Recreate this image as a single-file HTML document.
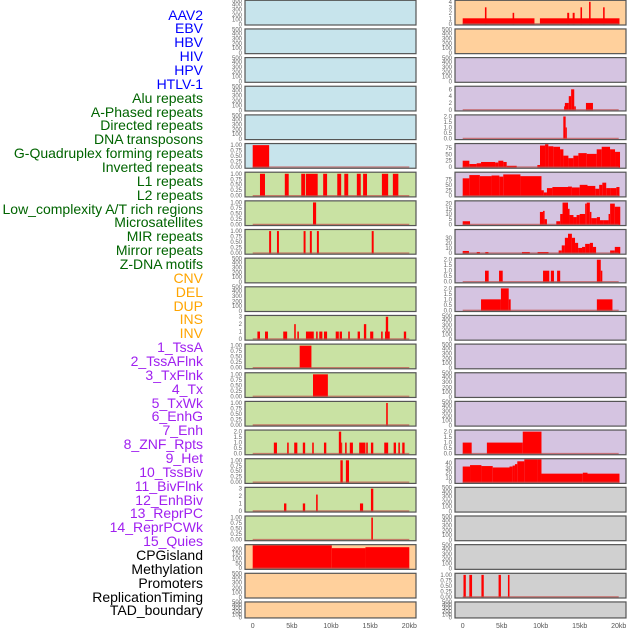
<!DOCTYPE html>
<html><head><meta charset="utf-8">
<style>
html,body{margin:0;padding:0;background:#fff;}
#wrap{position:relative;width:630px;height:630px;overflow:hidden;font-family:"Liberation Sans",sans-serif;}
.lab{position:absolute;right:427px;font-size:14px;line-height:14px;white-space:nowrap;}
svg{position:absolute;left:0;top:0;}
</style></head>
<body>
<div id="wrap">
<div id="labels"></div>
<svg id="chart" width="630" height="630"></svg>
</div>
<script>
const trackNames = ["AAV2","EBV","HBV","HIV","HPV","HTLV-1","Alu repeats","A-Phased repeats","Directed repeats","DNA transposons","G-Quadruplex forming repeats","Inverted repeats","L1 repeats","L2 repeats","Low_complexity A/T rich regions","Microsatellites","MIR repeats","Mirror repeats","Z-DNA motifs","CNV","DEL","DUP","INS","INV","1_TssA","2_TssAFlnk","3_TxFlnk","4_Tx","5_TxWk","6_EnhG","7_Enh","8_ZNF_Rpts","9_Het","10_TssBiv","11_BivFlnk","12_EnhBiv","13_ReprPC","14_ReprPCWk","15_Quies","CPGisland","Methylation","Promoters","ReplicationTiming","TAD_boundary"];
const trackGroups = ["v","v","v","v","v","v","r","r","r","r","r","r","r","r","r","r","r","r","r","s","s","s","s","s","c","c","c","c","c","c","c","c","c","c","c","c","c","c","c","o","o","o","o","o"];
const xTicks = [0,5,10,15,20];
const xTickLabels = ["0","5kb","10kb","15kb","20kb"];

// segments: [startKb, endKb, value]
const left5 = [[0,2.1,1]];
const left6 = [[0.93,1.57,1],[4.1,4.6,1],[6.2,6.7,1],[6.8,8.3,1],[9.0,9.5,1],[10.8,11.3,1],[11.7,12.2,1],[13.3,13.8,1],[14.1,14.6,1],[16.5,17.3,1],[17.9,18.6,1]];
const left7 = [[7.7,8.1,1]];
const left8 = [[2.1,2.35,1],[3.1,3.35,1],[6.5,6.75,1],[7.3,7.55,1],[8.2,8.45,1],[15.2,15.45,1]];
const left11 = [[0.6,0.93,1],[1.57,1.95,1],[3.9,4.4,1],[5.3,5.5,2],[5.7,5.9,1],[6.8,7.8,1],[8.1,8.3,1],[8.5,8.9,1],[9.1,9.5,1],[10.6,11.0,1],[11.1,11.4,1],[12.2,12.4,1],[13.4,13.7,1],[14.2,14.5,2],[15.0,15.4,1],[16.4,16.6,1],[16.9,17.5,1],[17.0,17.3,3],[19.3,19.6,1]];
const left12 = [[6.0,7.5,1]];
const left13 = [[7.7,9.6,1]];
const left14 = [[17.05,17.25,1]];
const left15 = [[2.7,3.1,1],[4.4,4.6,1],[5.3,5.7,1],[6.4,6.7,1],[7.6,7.8,1],[9.1,9.4,1],[11.0,11.3,2],[11.3,11.4,1],[11.8,12.0,1],[12.4,12.8,1],[13.6,14.4,1],[14.5,14.7,1],[15.1,15.4,1],[16.8,17.3,1],[18.0,18.3,1],[18.6,18.8,1],[19.1,19.4,1]];
const left16 = [[11.2,11.5,1],[11.9,12.3,1]];
const left17 = [[4.0,4.3,1],[6.4,6.7,1],[8.1,8.3,2.2],[13.7,14.1,1],[15.1,15.4,3]];
const left18 = [[15.15,15.35,1]];
const left19 = [[0,10.1,240],[10.1,14.4,207],[14.4,20.0,217]];

const right0 = [[0,9.2,1],[9.9,20.1,1],[2.85,3.05,3],[6.4,6.6,2],[13.4,13.65,2],[14.1,14.35,2],[15.1,15.3,3],[16.2,16.4,4],[18.0,18.2,3]];
const right3 = [[13.0,13.1,1],[13.1,13.6,2],[13.6,13.9,4],[13.9,14.3,6],[14.3,14.5,1],[15.8,16.7,2]];
const right4 = [[12.9,13.2,2],[13.2,13.35,1]];
const right5 = [[0,0.85,25],[0.85,1.79,12],[1.79,2.35,15],[2.35,4.15,20],[4.15,4.57,18],[4.57,5.21,25],[5.21,5.64,20],[5.64,6.92,5],[9.57,9.91,8],[9.91,10.56,85],[10.56,10.98,90],[10.98,11.62,82],[11.62,12.48,80],[12.48,12.91,70],[12.91,13.55,45],[13.55,14.19,35],[14.19,14.83,45],[14.83,15.9,55],[15.9,17.18,52],[17.18,17.82,70],[17.82,18.89,80],[18.89,19.53,70],[19.53,20.17,60]];
const right6 = [[0,0.85,80],[0.85,2.2,95],[2.2,3.7,90],[3.7,4.7,93],[4.7,5.2,88],[5.2,7.4,98],[7.4,10.1,90],[10.1,10.4,25],[10.4,10.8,15],[10.8,11.5,35],[11.5,13.5,40],[13.5,14.0,42],[14.0,15.0,38],[15.0,16.0,50],[16.0,17.0,45],[17.0,17.5,32],[17.5,17.9,50],[17.9,18.4,60],[18.4,19.0,35],[19.0,19.7,35],[19.7,20.1,40]];
const right7 = [[0,0.94,3],[9.9,10.3,12],[10.3,10.5,13],[10.5,10.8,5],[12.0,12.5,3],[12.5,12.8,10],[12.8,13.5,21],[13.5,13.7,15],[13.7,14.2,9],[14.2,14.6,7],[14.6,15.0,9],[15.0,15.7,10],[15.7,15.9,20],[15.9,16.3,21],[16.3,16.5,12],[16.5,17.2,6],[17.2,17.6,7],[17.6,18.0,4],[18.0,18.7,4],[18.7,18.9,10],[18.9,19.5,20],[19.5,20.2,17]];
const right8 = [[0,0.8,4],[1.8,2.2,2],[2.9,3.3,2],[7.6,8.6,2],[9.6,11.0,2],[12.3,12.7,5],[12.7,13.1,15],[13.1,13.5,30],[13.5,14.0,38],[14.0,14.4,30],[14.4,14.8,20],[14.8,15.3,10],[15.3,15.7,12],[15.7,16.3,18],[16.3,16.7,20],[16.7,17.1,12],[18.9,19.5,5],[19.5,20.2,12]];
const right9 = [[2.86,3.33,1],[4.66,5.13,1],[10.3,11.1,1],[11.3,11.7,1],[12.1,12.5,1],[17.2,17.7,2],[17.7,17.9,1]];
const right10 = [[2.35,4.9,1],[4.9,5.9,2],[5.9,6.15,1],[17.2,19.2,1]];
const right15 = [[0,1.15,1],[3.1,7.7,1],[7.7,10.1,2]];
const right16 = [[0,0.94,33],[0.94,2.4,36],[2.4,3.85,34],[3.85,6.0,31],[6.0,6.4,33],[6.4,6.7,35],[6.7,7.0,38],[7.0,7.9,44],[7.9,9.6,50],[9.6,10.1,52],[10.1,15.4,18],[15.4,16.0,20],[16.0,20.1,18]];
const right20 = [[0.1,0.4,1],[0.85,1.2,1],[2.4,2.7,1],[4.6,4.9,1],[5.8,6.0,1]];

const tickSets = {
  E:{vals:[0,100,200,300,400,500],labels:["0","100","200","300","400","500"]},
  p1:{vals:[0,0.25,0.5,0.75,1],labels:["0.00","0.25","0.50","0.75","1.00"],max:1.04},
  p2:{vals:[0,0.5,1,1.5,2],labels:["0.0","0.5","1.0","1.5","2.0"],max:2.08},
  p3:{vals:[0,1,2,3],labels:["0","1","2","3"],max:3.08},
  p4:{vals:[0,1,2,3,4],labels:["0","1","2","3","4"],max:4.15},
  p6:{vals:[0,2,4,6],labels:["0","2","4","6"],max:6.7},
  p75a:{vals:[0,25,50,75],labels:["0","25","50","75"],max:90},
  p75b:{vals:[0,25,50,75],labels:["0","25","50","75"],max:105},
  p20:{vals:[0,5,10,15,20],labels:["0","5","10","15","20"],max:22},
  p30:{vals:[0,10,20,30],labels:["0","10","20","30"],max:45},
  p40:{vals:[0,10,20,30,40],labels:["0","10","20","30","40"],max:48},
  p200:{vals:[0,50,100,150,200],labels:["0","50","100","150","200"],max:236}
};
const eFrac = [0.975,0.77,0.59,0.38,0.18,0.015];

const C_BLUE="#c7e4ec",C_GREEN="#c9e2a3",C_PEACH="#ffd09c",C_PURP="#d5c4e1",C_GRAY="#d0d0d0";
const leftBg = [C_BLUE,C_BLUE,C_BLUE,C_BLUE,C_BLUE,C_BLUE,C_GREEN,C_GREEN,C_GREEN,C_GREEN,C_GREEN,C_GREEN,C_GREEN,C_GREEN,C_GREEN,C_GREEN,C_GREEN,C_GREEN,C_GREEN,C_PEACH,C_PEACH,C_PEACH];
const rightBg = [C_PEACH,C_PEACH,C_PURP,C_PURP,C_PURP,C_PURP,C_PURP,C_PURP,C_PURP,C_PURP,C_PURP,C_PURP,C_PURP,C_PURP,C_PURP,C_PURP,C_PURP,C_GRAY,C_GRAY,C_GRAY,C_GRAY,C_GRAY];
const leftData = [null,null,null,null,null,left5,left6,left7,left8,null,null,left11,left12,left13,left14,left15,left16,left17,left18,left19,null,null];
const leftTicks = ["E","E","E","E","E","p1","p1","p1","p1","E","E","p3","p1","p1","p1","p2","p1","p3","p1","p200","E","E"];
const rightData = [right0,null,null,right3,right4,right5,right6,right7,right8,right9,right10,null,null,null,null,right15,right16,null,null,null,right20,null];
const rightTicks = ["p4","E","E","p6","p2","p75a","p75b","p20","p30","p2","p2","E","E","E","E","p2","p40","E","E","E","p1","E"];

// labels
const labDiv = document.getElementById('labels');
const groupColor = {v:"#0000ff",r:"#006400",s:"#ffa500",c:"#a020f0",o:"#000000"};
trackNames.forEach((n,i)=>{
  const d=document.createElement('div');
  d.className='lab';
  
  
  d.style.top=(15+i*13.86-7.5)+'px';
  d.style.color=groupColor[trackGroups[i]];
  d.textContent=n;
  labDiv.appendChild(d);
});

const NS="http://www.w3.org/2000/svg";
const svg=document.getElementById('chart');
function mk(tag,attrs,parent){const e=document.createElementNS(NS,tag);for(const k in attrs)e.setAttribute(k,attrs[k]);(parent||svg).appendChild(e);return e;}

const cols=[{x0:245,x1:416,d0:252.7,d1:409.3,bg:leftBg,data:leftData,ticks:leftTicks,name:'left'},
            {x0:455,x1:626,d0:462.7,d1:618.7,bg:rightBg,data:rightData,ticks:rightTicks,name:'right'}];

cols.forEach(col=>{
  const xs=kb=>col.d0+(col.d1-col.d0)*kb/20;
  for(let r=0;r<22;r++){
    const top=0.3+r*28.65;
    const h=(r===21)?16:24.7;
    const bot=top+h;
    const g=mk('g',{});
    
    
    mk('rect',{x:col.x0,y:top,width:col.x1-col.x0,height:h,fill:col.bg[r]},g);
    const ts=tickSets[col.ticks[r]];
    let ys;
    if(col.ticks[r]==='E'){
      ys=v=>top+h*eFrac[ts.vals.indexOf(v)];
    } else {
      ys=v=>bot-1.2-(v/ts.max)*(h-1.9);
    }
    const data=col.data[r];
    if(data){
      data.forEach(s=>{
        const y=ys(Math.min(s[2],ts.max));
        const bar=mk('rect',{x:xs(s[0]),y:Math.max(y,top),width:Math.max(xs(s[1])-xs(s[0]),1),height:ys(0)-Math.max(y,top)+0.5,fill:'#ff0000'},g);
        
        
      });
      const bl=mk('line',{x1:xs(0),x2:xs(20),y1:ys(0),y2:ys(0),stroke:'#c0504d','stroke-width':1.3,'stroke-opacity':0.7},g);
      
      
    }
    mk('rect',{x:col.x0,y:top,width:col.x1-col.x0,height:h,fill:'none',stroke:'#555','stroke-width':1.2},g);
    ts.vals.forEach((v,i)=>{
      const t=mk('text',{x:col.x0-3,y:ys(v)+2,'font-size':6,'text-anchor':'end',fill:'#666','font-family':'Liberation Sans, sans-serif'},g);
      
      
      t.textContent=ts.labels[i];
    });
  }
  xTicks.forEach((k,i)=>{
    const t=mk('text',{x:xs(k),y:628,'font-size':7,'text-anchor':'middle',fill:'#555','font-family':'Liberation Sans, sans-serif'});
    
    
    t.textContent=xTickLabels[i];
  });
});
</script>
</body></html>
